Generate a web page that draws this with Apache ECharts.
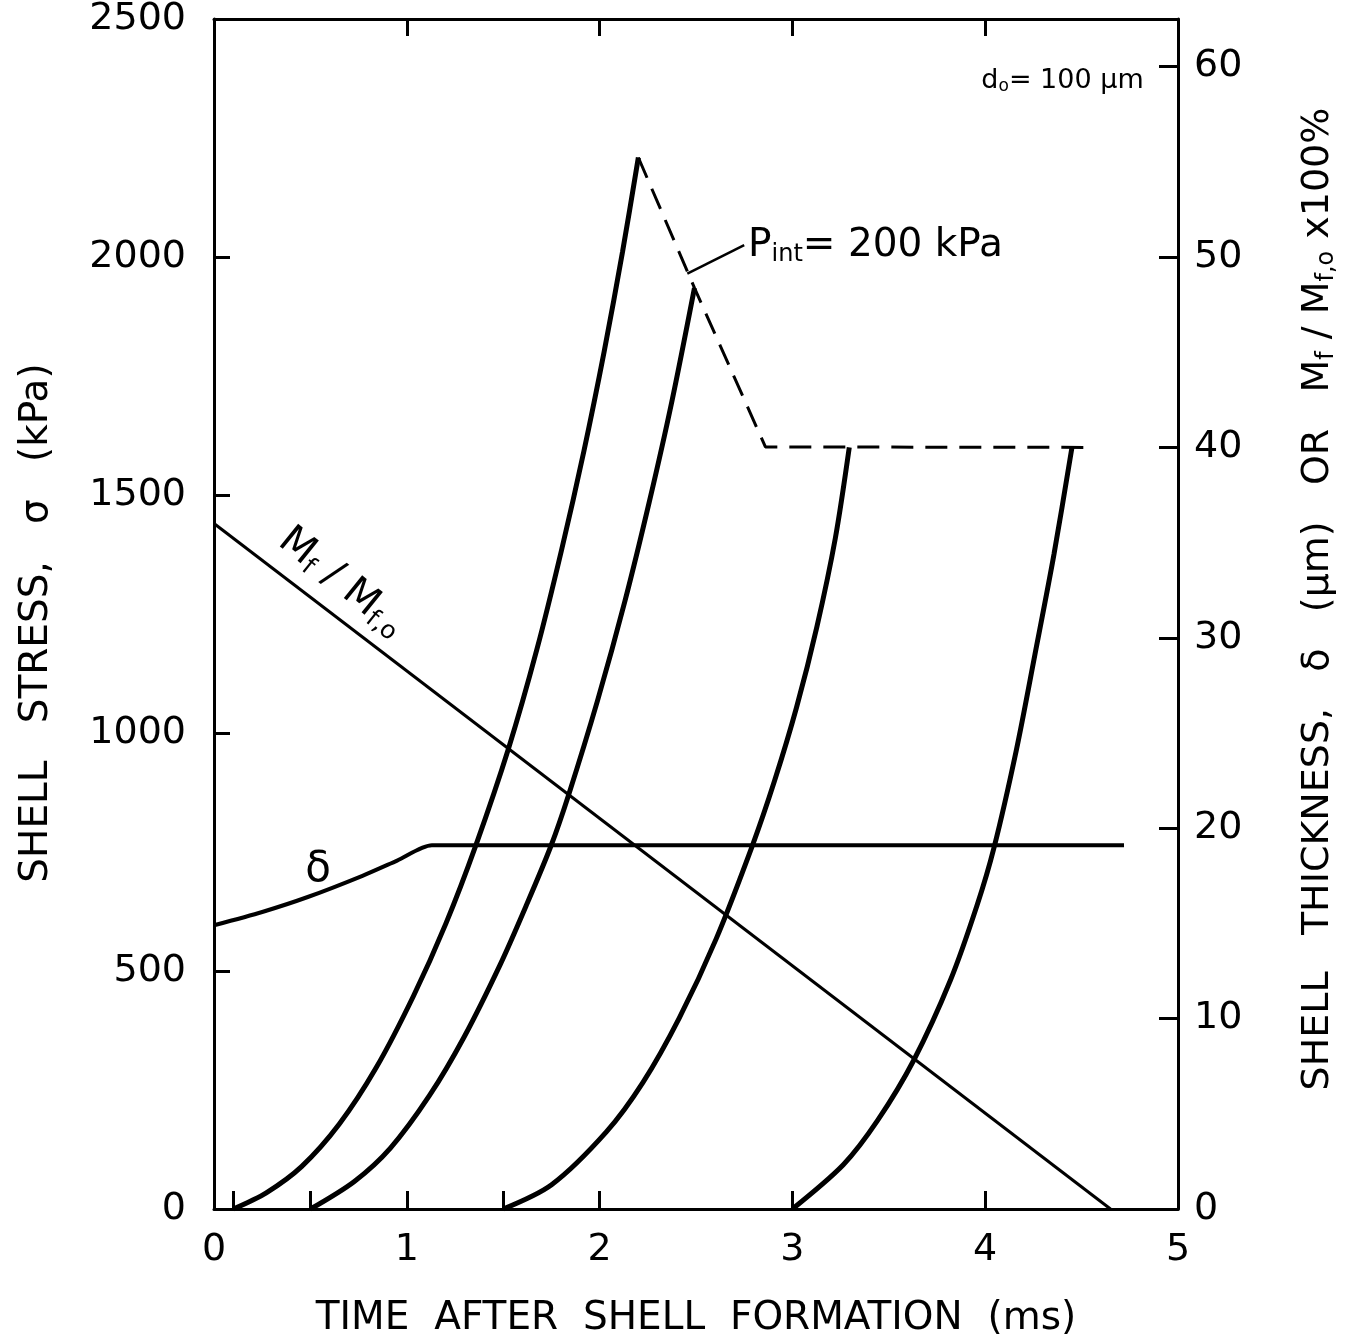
<!DOCTYPE html>
<html>
<head>
<meta charset="utf-8">
<script src="https://cdn.jsdelivr.net/npm/echarts@6/dist/echarts.min.js"></script>
<style>
  html, body { margin: 0; padding: 0; background: #fff; }
  #chart { width: 1357px; height: 1343px; }
</style>
</head>
<body>
<div id="chart"></div>
<script>
// Axis ticks and labels
const timeLabels = [0, 1, 2, 3, 4, 5];
const timeTicks = [0.1, 0.5, 1, 1.5, 2, 3, 4];
const timeTopTicks = [1, 2, 3, 4];

// Shell stress (kPa) vs time (ms), one curve per shell formation time
const stressCurve1 = [[0.1, 0], [0.271, 34], [0.454, 89], [0.649, 178], [0.84, 296], [1.034, 447], [1.202, 599], [1.358, 764], [1.528, 968], [1.675, 1176], [1.803, 1385], [1.919, 1593], [2.024, 1802], [2.119, 2011], [2.201, 2209]];
const stressCurve2 = [[0.5, 0], [0.728, 58], [0.915, 128], [1.117, 238], [1.298, 362], [1.485, 514], [1.62, 638], [1.746, 761], [1.84, 871], [1.99, 1069], [2.132, 1278], [2.258, 1486], [2.374, 1695], [2.492, 1935]];
const stressCurve3 = [[1.5, 0], [1.751, 51], [2.035, 162], [2.225, 266], [2.413, 401], [2.604, 567], [2.792, 763], [2.907, 899], [3.021, 1053], [3.127, 1223], [3.223, 1410], [3.295, 1600]];
const stressCurve4 = [[3.0, 0], [3.264, 93], [3.442, 186], [3.63, 313], [3.82, 481], [3.957, 637], [4.045, 758], [4.162, 965], [4.258, 1165], [4.357, 1376], [4.45, 1600]];

// Rupture stress envelope for P_int = 200 kPa (dashed)
const ruptureEnvelope = [[2.201, 2209], [2.492, 1935], [2.86, 1601], [4.56, 1600]];

// Shell thickness delta (um) and remaining mass fraction Mf/Mf,o x 100 %
const shellThickness = [[0, 14.9], [0.25, 15.6], [0.49, 16.4], [0.77, 17.5], [0.95, 18.3], [1.13, 19.1], [4.72, 19.1]];
const massFraction = [[0, 36.0], [4.65, 0]];

const FONT = '"DejaVu Sans", sans-serif';
const INK = '#000';

const subRich = (size) => ({
  b: { fontSize: size, fontFamily: FONT, color: INK },
  s: { fontSize: Math.round(size * 0.62), fontFamily: FONT, color: INK, verticalAlign: 'bottom', padding: [Math.round(size * 0.45), 0, 0, 0] }
});

const axisLineStyle = { show: true, onZero: false, lineStyle: { color: INK, width: 3 } };
const tickStyle = (len, values) => {
  const t = { show: true, inside: true, length: len, lineStyle: { color: INK, width: 3 } };
  if (values) t.customValues = values;
  return t;
};
const labelStyle = (margin, values) => {
  const l = {
    show: true, margin: margin,
    fontSize: 38, fontFamily: FONT, color: INK,
    formatter: (v) => String(v)
  };
  if (values) l.customValues = values;
  return l;
};

const lineSeries = (data, axis, width, extra) => Object.assign({
  type: 'line', data: data, xAxisIndex: 0, yAxisIndex: axis,
  showSymbol: false, symbol: 'none', silent: true,
  lineStyle: { color: INK, width: width }
}, extra || {});

const option = {
  animation: false,
  backgroundColor: '#fff',
  grid: { left: 214, right: 179, top: 15, bottom: 134 },
  xAxis: [
    {
      type: 'value', position: 'bottom', min: 0, max: 5,
      axisLine: axisLineStyle,
      axisTick: tickStyle(18, timeTicks),
      axisLabel: labelStyle(22, timeLabels),
      splitLine: { show: false },
      name: 'TIME  AFTER  SHELL  FORMATION  (ms)',
      nameLocation: 'middle', nameGap: 90,
      nameTextStyle: { fontSize: 39, fontFamily: FONT, color: INK }
    },
    {
      type: 'value', position: 'top', min: 0, max: 5,
      axisLine: axisLineStyle,
      axisTick: tickStyle(17, timeTopTicks),
      axisLabel: { show: false },
      splitLine: { show: false }
    }
  ],
  yAxis: [
    {
      type: 'value', position: 'left', min: 0, max: 2500, interval: 500,
      axisLine: axisLineStyle,
      axisTick: tickStyle(16),
      axisLabel: labelStyle(28),
      splitLine: { show: false },
      name: 'SHELL   STRESS,   σ   (kPa)',
      nameLocation: 'middle', nameRotate: 90, nameGap: 158,
      nameTextStyle: { fontSize: 39, fontFamily: FONT, color: INK, padding: [0, 18, 0, 0] }
    },
    {
      type: 'value', position: 'right', min: 0, max: 62.5, interval: 10,
      axisLine: axisLineStyle,
      axisTick: tickStyle(19),
      axisLabel: Object.assign(labelStyle(16), { showMaxLabel: false }),
      splitLine: { show: false },
      name: '{b|SHELL   THICKNESS,   δ   (µm)   OR   M}{s|f}{b| / M}{s|f,o}{b| x100%}',
      nameLocation: 'middle', nameRotate: 90, nameGap: 120,
      nameTextStyle: { fontSize: 38, fontFamily: FONT, color: INK, rich: subRich(38), padding: [0, 0, 0, 30] }
    }
  ],
  series: [
    lineSeries(stressCurve1, 0, 5, { smooth: 0.3 }),
    lineSeries(stressCurve2, 0, 5, { smooth: 0.3 }),
    lineSeries(stressCurve3, 0, 5, { smooth: 0.3 }),
    lineSeries(stressCurve4, 0, 5, { smooth: 0.3 }),
    lineSeries(ruptureEnvelope, 0, 3, {
      lineStyle: { color: INK, width: 3, type: [22, 12] }
    }),
    lineSeries(shellThickness, 1, 4, { smooth: 0.25 }),
    lineSeries(massFraction, 1, 3)
  ]
};

const chart = echarts.init(document.getElementById('chart'), null, { renderer: 'canvas' });
chart.setOption(option);

// Annotations anchored to data coordinates
const annotations = {
  pint: { leaderFrom: [2.455, 1965], leaderTo: [2.75, 2025], textAt: [2.77, 2023] },
  diameter: { textAt: [3.98, 2370] },
  delta: { textAt: [0.54, 17.8] },
  mass: { textAt: [0.66, 32.9], angle: -0.68 }
};

const onStress = (p) => chart.convertToPixel({ xAxisIndex: 0, yAxisIndex: 0 }, p);
const onThickness = (p) => chart.convertToPixel({ xAxisIndex: 0, yAxisIndex: 1 }, p);

const lf = onStress(annotations.pint.leaderFrom);
const lt = onStress(annotations.pint.leaderTo);
const pt = onStress(annotations.pint.textAt);
const dt = onStress(annotations.diameter.textAt);
const de = onThickness(annotations.delta.textAt);
const ms = onThickness(annotations.mass.textAt);

chart.setOption({
  graphic: [
    {
      type: 'line', silent: true,
      shape: { x1: lf[0], y1: lf[1], x2: lt[0], y2: lt[1] },
      style: { stroke: INK, lineWidth: 2.5 }
    },
    {
      type: 'text', silent: true, x: pt[0], y: pt[1],
      style: { text: '{b|P}{s|int}{b|= 200 kPa}', rich: subRich(39), align: 'left', verticalAlign: 'middle', fill: INK }
    },
    {
      type: 'text', silent: true, x: dt[0], y: dt[1],
      style: { text: '{b|d}{s|o}{b|= 100 µm}', rich: subRich(27), align: 'left', verticalAlign: 'middle', fill: INK }
    },
    {
      type: 'text', silent: true, x: de[0], y: de[1],
      style: { text: 'δ', fontSize: 42, fontFamily: FONT, fill: INK, align: 'center', verticalAlign: 'middle' }
    },
    {
      type: 'text', silent: true, x: ms[0], y: ms[1], rotation: annotations.mass.angle,
      style: { text: '{b|M}{s|f}{b| / M}{s|f,o}', rich: subRich(40), align: 'center', verticalAlign: 'middle', fill: INK }
    }
  ]
});
</script>
</body>
</html>
